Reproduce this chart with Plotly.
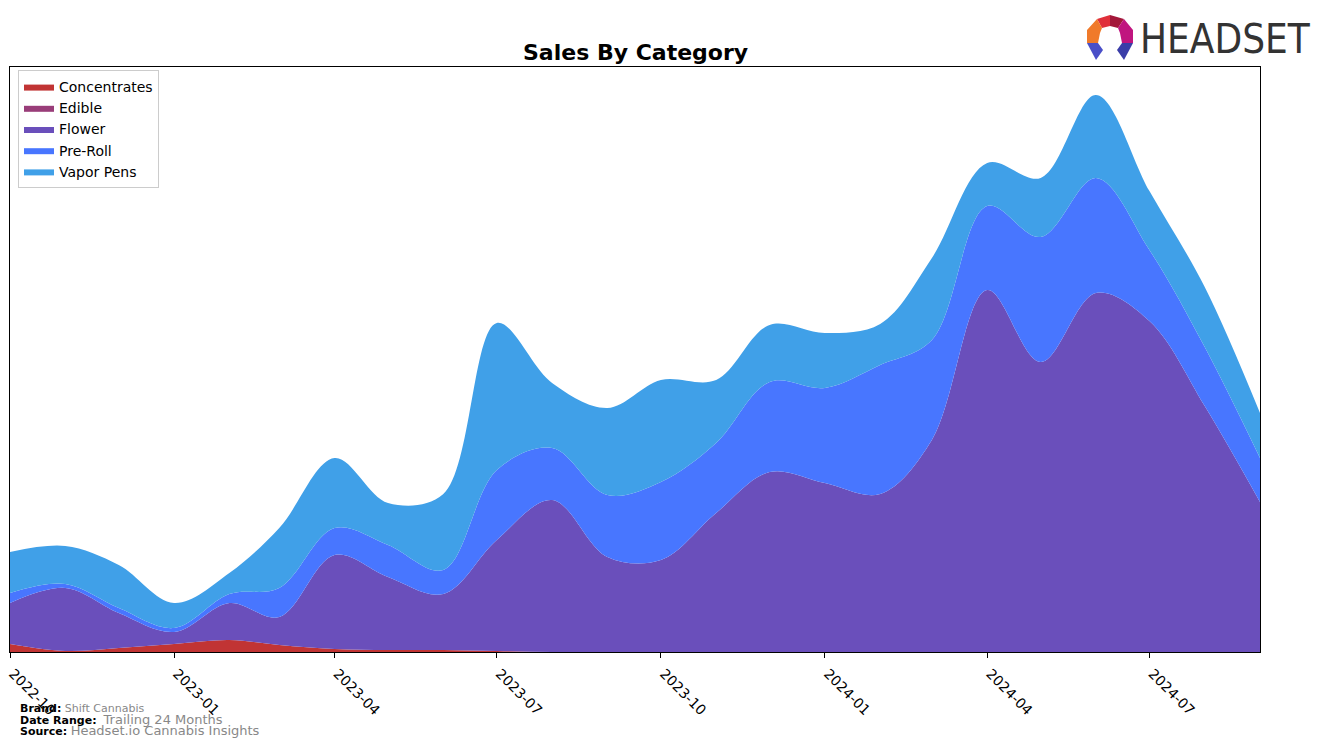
import plotly.graph_objects as go

months = ["2022-10-01", "2022-11-01", "2022-12-01", "2023-01-01", "2023-02-01", "2023-03-01",
          "2023-04-01", "2023-05-01", "2023-06-01", "2023-07-01", "2023-08-01", "2023-09-01",
          "2023-10-01", "2023-11-01", "2023-12-01", "2024-01-01", "2024-02-01", "2024-03-01",
          "2024-04-01", "2024-05-01", "2024-06-01", "2024-07-01", "2024-08-01", "2024-09-01"]

concentrates = [8, 1, 4, 8, 12, 7, 3, 2, 2, 1, 0, 0, 0, 0, 0, 0, 0, 0, 0, 0, 0, 0, 0, 0]
edible = [0] * 24
flower = [41, 63, 35, 12, 37, 28, 94, 73, 56, 111, 152, 95, 92, 139, 180, 169, 158, 212, 362, 290, 359, 331, 246, 150]
pre_roll = [10, 4, 5, 4, 9, 29, 27, 32, 24, 70, 52, 62, 78, 70, 90, 95, 129, 100, 84, 125, 115, 71, 59, 44]
vapor_pens = [41, 38, 43, 25, 21, 60, 70, 42, 76, 147, 65, 87, 102, 63, 57, 55, 41, 82, 43, 59, 83, 59, 60, 45]

tick_vals = ["2022-10-01", "2023-01-01", "2023-04-01", "2023-07-01", "2023-10-01",
             "2024-01-01", "2024-04-01", "2024-07-01"]
tick_text = ["2022-10", "2023-01", "2023-04", "2023-07", "2023-10", "2024-01", "2024-04", "2024-07"]

series = [
    ("Concentrates", concentrates, "#C13434"),
    ("Edible", edible, "#993D79"),
    ("Flower", flower, "#6A4FBB"),
    ("Pre-Roll", pre_roll, "#4876FF"),
    ("Vapor Pens", vapor_pens, "#40A0E8"),
]

FONT = "DejaVu Sans, Verdana, sans-serif"

fig = go.Figure()
for name, vals, col in series:
    fig.add_trace(go.Scatter(
        x=months, y=vals, name=name, mode="lines", stackgroup="one",
        line=dict(width=0, shape="spline", smoothing=1.0, color=col),
        fillcolor=col,
    ))

W, H = 1324, 747
L, R, T, B = 10, 1260, 67, 652


def px(x):
    return (x - L) / (R - L)


def py(y):
    return (B - y) / (B - T)


def path(points):
    return "M " + " L ".join(f"{px(a):.5f},{py(b):.5f}" for a, b in points) + " Z"


logo_parts = [
    ([(1097, 19), (1110, 15), (1110, 26), (1102, 28)], "#E0303A"),
    ([(1110, 15), (1124, 19), (1118, 28), (1110, 26)], "#A3173A"),
    ([(1124, 19), (1133, 30), (1133, 43), (1122, 43), (1120, 33), (1118, 28)], "#C0157F"),
    ([(1097, 19), (1102, 28), (1100, 33), (1098, 43), (1087, 43), (1087, 30)], "#F07A2A"),
    ([(1087, 43), (1098, 43), (1103, 50), (1096, 60)], "#4A4FC8"),
    ([(1122, 43), (1133, 43), (1124, 60), (1117, 50)], "#3A3DA8"),
]
shapes = []
for pts, col in logo_parts:
    shapes.append(dict(type="path", xref="paper", yref="paper", path=path(pts),
                       fillcolor=col, line=dict(width=0), layer="above"))

annotations = [
    dict(text="<b>Sales By Category</b>", xref="paper", yref="paper", x=0.5, y=py(52),
         xanchor="center", yanchor="middle", showarrow=False,
         font=dict(family=FONT, size=22, color="black")),
    dict(text="HEADSET", xref="paper", yref="paper", x=px(1138), y=py(39),
         xanchor="left", yanchor="middle", showarrow=False,
         font=dict(family="DejaVu Sans Condensed, Roboto, sans-serif", size=40, color="#333333")),
    dict(text="<b>Brand:</b> <span style='color:#888888'>Shift Cannabis</span>",
         xref="paper", yref="paper", x=px(18), y=py(708), xanchor="left", yanchor="middle",
         showarrow=False, font=dict(family=FONT, size=11, color="black")),
    dict(text="<b>Date Range:</b>  <span style='color:#888888;font-size:13px'>Trailing 24 Months</span>",
         xref="paper", yref="paper", x=px(18), y=py(719), xanchor="left", yanchor="middle",
         showarrow=False, font=dict(family=FONT, size=11, color="black")),
    dict(text="<b>Source:</b> <span style='color:#888888;font-size:13px'>Headset.io Cannabis Insights</span>",
         xref="paper", yref="paper", x=px(18), y=py(730), xanchor="left", yanchor="middle",
         showarrow=False, font=dict(family=FONT, size=11, color="black")),
]

fig.update_layout(
    width=W, height=H,
    margin=dict(l=L, r=W - R, t=T, b=H - B, autoexpand=False),
    paper_bgcolor="white", plot_bgcolor="white",
    font=dict(family=FONT, size=13, color="black"),
    showlegend=True,
    legend=dict(x=px(18), y=py(70), xanchor="left", yanchor="top",
                bgcolor="rgba(255,255,255,0.9)", bordercolor="#CCCCCC", borderwidth=1,
                font=dict(family=FONT, size=14, color="black"), traceorder="normal",
                itemsizing="constant"),
    xaxis=dict(type="date", range=["2022-10-01", "2024-09-01"],
               tickmode="array", tickvals=tick_vals, ticktext=tick_text,
               tickangle=45, ticks="outside", ticklen=5, tickcolor="black",
               ticklabelstandoff=2, ticklabelshift=3,
               showline=True, linecolor="black", linewidth=1, mirror=True,
               showgrid=False, zeroline=False, automargin=False,
               tickfont=dict(family=FONT, size=14, color="black")),
    yaxis=dict(range=[0, 585], showticklabels=False, ticks="", showgrid=False,
               showline=True, linecolor="black", linewidth=1, mirror=True, zeroline=False,
               automargin=False),
    shapes=shapes,
    annotations=annotations,
)

fig.write_html("out.html")
